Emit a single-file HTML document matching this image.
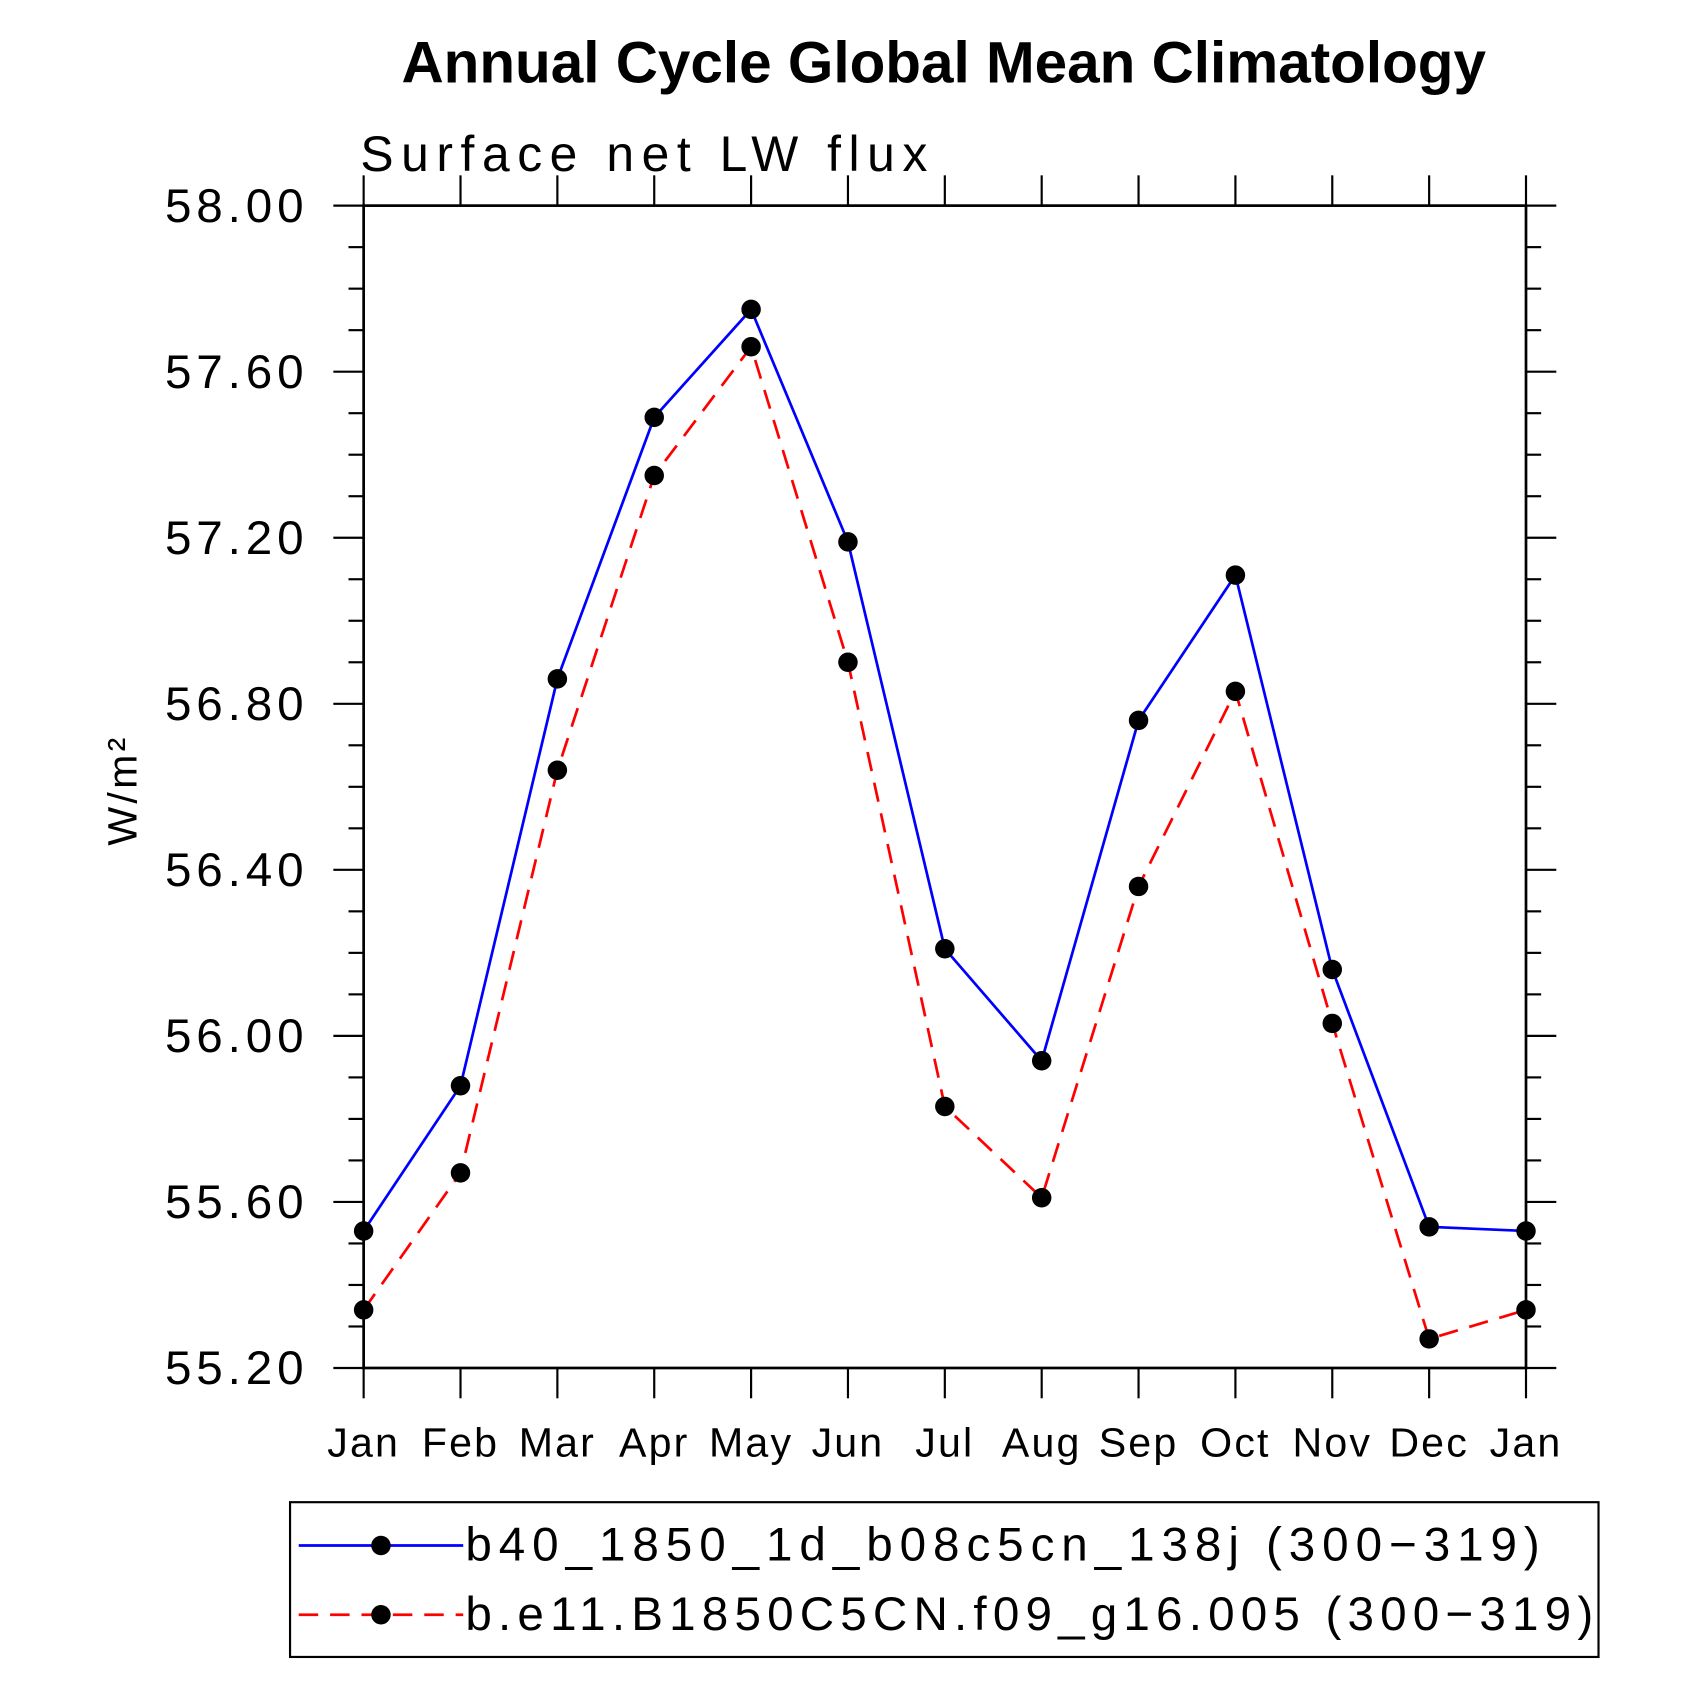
<!DOCTYPE html>
<html><head><meta charset="utf-8"><style>
html,body{margin:0;padding:0;background:#fff;}
svg{display:block;}
text{font-family:"Liberation Sans",sans-serif;fill:#000;}
</style></head><body>
<svg id="chart" width="1697" height="1697" viewBox="0 0 1568 1568" xmlns="http://www.w3.org/2000/svg">
<text x="872" y="76" text-anchor="middle" font-size="54" font-weight="bold">Annual Cycle Global Mean Climatology</text>
<text x="333" y="158" font-size="46" letter-spacing="7">Surface net LW flux</text>
<text transform="translate(126,730) rotate(-90)" text-anchor="middle" font-size="38" letter-spacing="3">W/m²</text>
<g id="axes"></g>
<g id="series"></g>
<rect x="268" y="1388" width="1209" height="143" fill="none" stroke="#000" stroke-width="2"/>
<g>
<line x1="276" y1="1428" x2="428" y2="1428" stroke="#0000ff" stroke-width="2.5"/>
<circle cx="352" cy="1428" r="9" fill="#000"/>
<text x="430" y="1442" font-size="44" letter-spacing="6.4">b40_1850_1d_b08c5cn_138j (300−319)</text>
</g>
<g>
<line x1="276" y1="1492" x2="428" y2="1492" stroke="#ff0000" stroke-width="2.5" stroke-dasharray="18,11"/>
<circle cx="352" cy="1492" r="9" fill="#000"/>
<text x="430" y="1506" font-size="44" letter-spacing="5.7">b.e11.B1850C5CN.f09_g16.005 (300−319)</text>
</g>
</svg>
<script>
const months = ["Jan","Feb","Mar","Apr","May","Jun","Jul","Aug","Sep","Oct","Nov","Dec","Jan"];
const seriesB40 = [55.53,55.88,56.86,57.49,57.75,57.19,56.21,55.94,56.76,57.11,56.16,55.54,55.53];
const seriesBe11 = [55.34,55.67,56.64,57.35,57.66,56.90,55.83,55.61,56.36,56.83,56.03,55.27,55.34];
const yTicks = ["55.20","55.60","56.00","56.40","56.80","57.20","57.60","58.00"];
const yMin = 55.2, yMax = 58.0;
const X0 = 336, X1 = 1410, Y0 = 1264, Y1 = 190;
const NS = "http://www.w3.org/2000/svg";
function xs(i){ return X0 + (X1 - X0) * i / (months.length - 1); }
function ys(v){ return Y0 - (Y0 - Y1) * (v - yMin) / (yMax - yMin); }
function mk(tag, attrs, parent){ const e = document.createElementNS(NS, tag); for (const k in attrs) e.setAttribute(k, attrs[k]); parent.appendChild(e); return e; }
const axes = document.getElementById('axes');
const frame = mk('rect', {x:X0, y:Y1, width:X1-X0, height:Y0-Y1, fill:'none', stroke:'#000', 'stroke-width':2.5}, axes);


for (let k = 0; k <= 28; k++) {
  const v = yMin + k * 0.1;
  const y = ys(v);
  const major = k % 4 === 0;
  const L = major ? 28 : 14;
  mk('line', {x1:X0-L, y1:y, x2:X0, y2:y, stroke:'#000', 'stroke-width':2}, axes);
  mk('line', {x1:X1, y1:y, x2:X1+L, y2:y, stroke:'#000', 'stroke-width':2}, axes);
}
yTicks.forEach(t => {
  const el = mk('text', {x:285, y:ys(parseFloat(t))+15, 'text-anchor':'end', 'font-size':44, 'letter-spacing':4.5}, axes);
  el.textContent = t;
  
  
});
months.forEach((m, i) => {
  const x = xs(i);
  mk('line', {x1:x, y1:Y0, x2:x, y2:Y0+28, stroke:'#000', 'stroke-width':2}, axes);
  mk('line', {x1:x, y1:Y1-28, x2:x, y2:Y1, stroke:'#000', 'stroke-width':2}, axes);
  const el = mk('text', {x:x, y:1346, 'text-anchor':'middle', 'font-size':38, 'letter-spacing':2}, axes);
  el.textContent = m;
  
  
});
const sg = document.getElementById('series');
function drawSeries(vals, color, dash, name){
  const pts = vals.map((v, i) => xs(i) + ',' + ys(v)).join(' ');
  const pl = mk('polyline', {points:pts, fill:'none', stroke:color, 'stroke-width':2.5}, sg);
  if (dash) pl.setAttribute('stroke-dasharray', dash);
  
  
  vals.forEach((v, i) => {
    const c = mk('circle', {cx:xs(i), cy:ys(v), r:9, fill:'#000'}, sg);
    
    
  });
}
drawSeries(seriesBe11, '#ff0000', '18,11', 'be11');
drawSeries(seriesB40, '#0000ff', null, 'b40');
</script>
</body></html>
